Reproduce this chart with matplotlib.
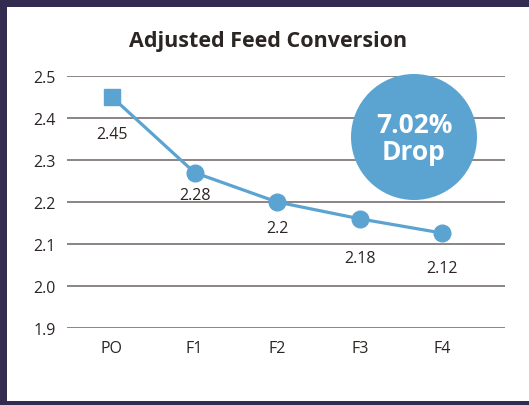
import matplotlib
matplotlib.use("Agg")
import matplotlib.pyplot as plt
from matplotlib.patches import Rectangle, Ellipse

categories = ["PO", "F1", "F2", "F3", "F4"]
values = [2.45, 2.27, 2.20, 2.16, 2.126]
value_labels = ["2.45", "2.28", "2.2", "2.18", "2.12"]
yticks = [1.9, 2.0, 2.1, 2.2, 2.3, 2.4, 2.5]
title = "Adjusted Feed Conversion"
badge_text = "7.02%\nDrop"

# label offsets below each point, in points
label_dy = [-27, -16, -19, -28, -25]
label_dx = [0, 0, 0, 0, 0]

blue = "#5ba4d1"
navy = "#332b50"
grid_c = "#8a8584"
text_c = "#2b2523"

plt.rcParams["font.family"] = ["Open Sans", "DejaVu Sans"]

W, H = 529, 406
fig = plt.figure(figsize=(W / 100, H / 100), dpi=100)
fig.patch.set_facecolor(navy)
fig.add_artist(Rectangle((7 / W, 1 - 402 / H), 1, (402 - 8) / H,
                         transform=fig.transFigure, facecolor="white",
                         edgecolor="none", zorder=0))

ax = fig.add_axes([67 / W, 1 - 329 / H, (505 - 67) / W, (329 - 77) / H])
ax.set_facecolor("none")
x = list(range(len(categories)))
ax.set_xlim(-0.545, 4.76)
ax.set_ylim(1.9, 2.5)
ax.set_yticks(yticks)
ax.set_yticklabels([f"{t:.1f}" for t in yticks], fontsize=11.5, color=text_c)
ax.set_xticks(x)
ax.set_xticklabels(categories, fontsize=11.5, color=text_c)
ax.tick_params(length=0, pad=8)
ax.tick_params(axis="x", pad=9)
for s in ax.spines.values():
    s.set_visible(False)
ax.grid(axis="y", color=grid_c, linewidth=1.4)
ax.set_axisbelow(True)

ax.plot(x, values, color=blue, linewidth=2.3, zorder=3)
ax.plot(x[:1], values[:1], marker="s", markersize=11, color=blue, linestyle="none", zorder=4)
ax.plot(x[1:], values[1:], marker="o", markersize=12, color=blue, linestyle="none", zorder=4)

for xi, v, lab, dy, dx in zip(x, values, value_labels, label_dy, label_dx):
    ax.annotate(lab, (xi, v), xytext=(dx, dy), textcoords="offset points",
                ha="center", va="center", fontsize=11.5, color=text_c)

fig.text(268 / W, 1 - 42 / H, title, ha="center", va="center",
         fontsize=15.5, fontweight="bold", color=text_c)

cx, cy, r = 414, 138, 63
fig.add_artist(Ellipse((cx / W, 1 - cy / H), 2 * r / W, 2 * r / H,
                       transform=fig.transFigure, facecolor=blue,
                       edgecolor="none", zorder=5))
fig.text(cx / W, 1 - (cy + 1) / H, badge_text, ha="center", va="center",
         fontsize=19, fontweight="bold", color="white", linespacing=1.0,
         zorder=6)

fig.savefig("out.png", dpi=100, facecolor=fig.get_facecolor())
